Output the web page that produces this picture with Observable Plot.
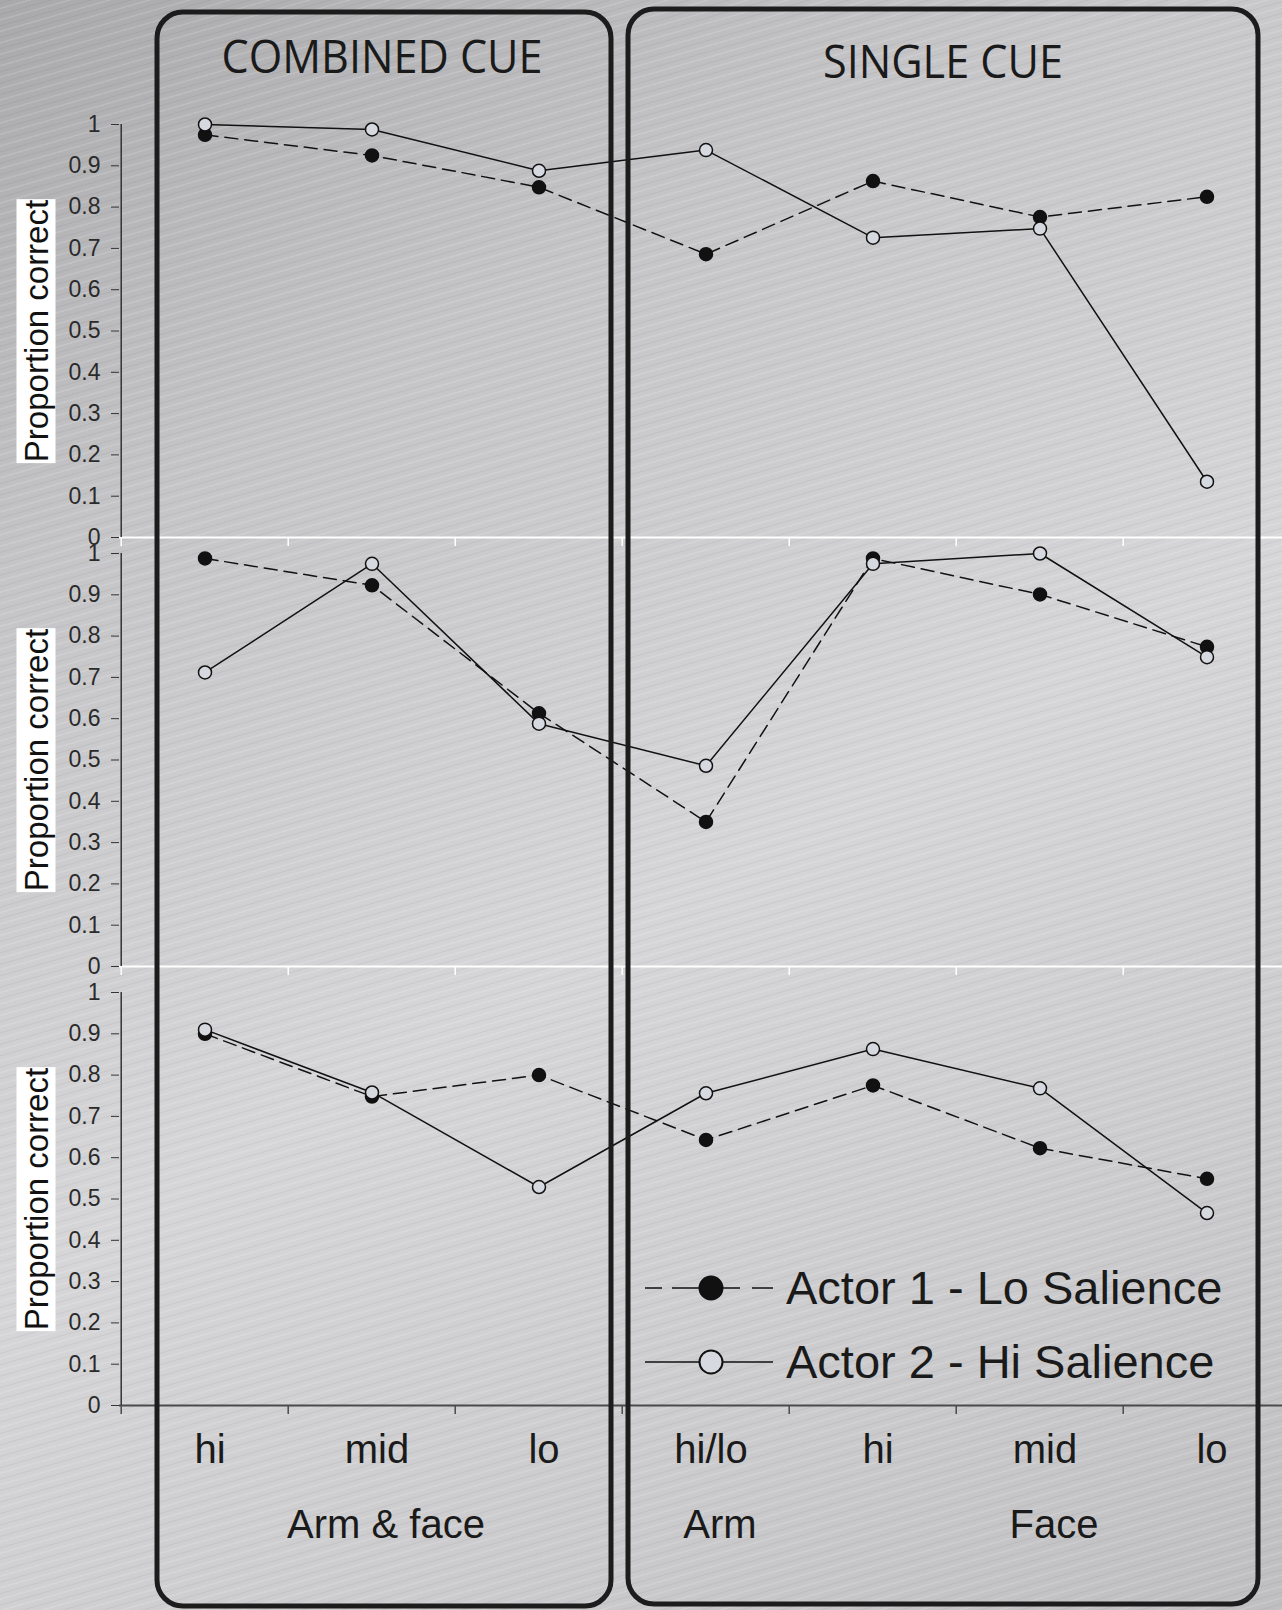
<!DOCTYPE html>
<html><head><meta charset="utf-8">
<script src="https://cdn.jsdelivr.net/npm/d3@7"></script>
<script src="https://cdn.jsdelivr.net/npm/@observablehq/plot@0.6"></script>
<style>
html,body{margin:0;padding:0;overflow:hidden;background:#c4c4c6;}
#root{position:relative;width:1282px;height:1610px;overflow:hidden;
  background:
    repeating-linear-gradient(-16deg, rgba(255,255,255,0.14) 0px, rgba(255,255,255,0.14) 1px, rgba(0,0,0,0) 2px, rgba(0,0,0,0) 5px, rgba(0,0,0,0.05) 6px, rgba(0,0,0,0) 7px, rgba(0,0,0,0) 11px),
    linear-gradient(150deg, #a9a9ac 0%, #c5c5c8 25%, #d6d6d8 55%, #cbcbcd 80%, #bfbfc2 100%);
  font-family:'Liberation Sans', Arial, sans-serif;}
.panel{position:absolute;left:0;}
.ylab{position:absolute;background:#fff;color:#111;font-size:33px;line-height:39px;white-space:nowrap;transform:translate(-50%,-50%) rotate(-90deg);padding:0 1px;}
.leg{position:absolute;left:0;top:0;}
</style></head><body><div id="root"></div>
<script>
// ---------- data ----------
const categories = ["AF-hi", "AF-mid", "AF-lo", "A-hilo", "F-hi", "F-mid", "F-lo"];
const tickLabels = ["hi", "mid", "lo", "hi/lo", "hi", "mid", "lo"];
const groupLabels = ["Arm & face", "Arm", "Face"];
const groupAnchors = ["AF-mid", "A-hilo", "F-mid"];
const seriesNames = ["Actor 1 - Lo Salience", "Actor 2 - Hi Salience"];
const yTickValues = [0, 0.1, 0.2, 0.3, 0.4, 0.5, 0.6, 0.7, 0.8, 0.9, 1];
const boxTitles = ["COMBINED CUE", "SINGLE CUE"];
const yLabel = "Proportion correct";

const panel1Actor1 = [0.975, 0.925, 0.848, 0.686, 0.863, 0.776, 0.825];
const panel1Actor2 = [1.0, 0.988, 0.888, 0.938, 0.726, 0.748, 0.135];
const panel2Actor1 = [0.988, 0.923, 0.613, 0.350, 0.988, 0.901, 0.774];
const panel2Actor2 = [0.712, 0.975, 0.588, 0.486, 0.975, 1.0, 0.749];
const panel3Actor1 = [0.900, 0.748, 0.800, 0.643, 0.775, 0.623, 0.549];
const panel3Actor2 = [0.910, 0.758, 0.529, 0.756, 0.863, 0.768, 0.466];

const panels = [
  [panel1Actor1, panel1Actor2],
  [panel2Actor1, panel2Actor2],
  [panel3Actor1, panel3Actor2]
];

// ---------- layout ----------
const root = document.getElementById("root");
const W = 1282;
const xRange = [119, 1292];
const bw = (xRange[1] - xRange[0]) / categories.length;
const panelTop = [124, 553, 992];
const panelH = 413;
const mt = 20;
const openFill = "#d6dae0";

panels.forEach((pair, p) => {
  const rows = [];
  pair.forEach((vals, s) => vals.forEach((v, i) => rows.push({cat: categories[i], value: v, series: seriesNames[s]})));
  const a1 = rows.filter(d => d.series === seriesNames[0]);
  const a2 = rows.filter(d => d.series === seriesNames[1]);
  const last = p === 2;
  const axisColor = last ? "#4a4a4a" : "#ffffff";
  const mb = last ? 170 : 20;
  const marks = [
    Plot.ruleY([0], {stroke: axisColor, strokeWidth: 2}),
    Plot.ruleX(categories, {x: d => d, dx: -bw / 2, y1: 0, y2: -0.022, stroke: axisColor, strokeWidth: 1.5}),
    Plot.ruleX([categories[0]], {x: d => d, dx: -bw / 2, y1: 0, y2: 1, stroke: "#333", strokeWidth: 1.5}),
    Plot.axisY({ticks: yTickValues, tickSize: 8, tickPadding: 11, fontSize: 23, label: null,
      tickFormat: d => (d === 0 ? "0" : d === 1 ? "1" : d.toFixed(1)), stroke: "#333", fill: "#2a2a2a"}),
    Plot.line(a1, {x: "cat", y: "value", stroke: "#111", strokeWidth: 1.5, strokeDasharray: "13,7"}),
    Plot.line(a2, {x: "cat", y: "value", stroke: "#111", strokeWidth: 1.5}),
    Plot.dot(a1, {x: "cat", y: "value", r: 6.5, fill: "#111", stroke: "#111", strokeWidth: 1.5}),
    Plot.dot(a2, {x: "cat", y: "value", r: 6.5, fill: openFill, stroke: "#111", strokeWidth: 1.5})
  ];
  if (last) {
    marks.push(Plot.text(categories, {x: d => d, text: (d, i) => tickLabels[i], frameAnchor: "bottom", lineAnchor: "middle", dy: 45, dx: 5, fontSize: 40, fill: "#1a1a1a"}));
    marks.push(Plot.text(groupLabels, {x: (d, i) => groupAnchors[i], text: d => d, frameAnchor: "bottom", lineAnchor: "middle", dy: 120, dx: 14, fontSize: 40, fill: "#1a1a1a"}));
  }
  const chart = Plot.plot({
    width: W, height: panelH + mt + mb,
    marginTop: mt, marginBottom: mb, marginLeft: xRange[0], marginRight: 0,
    x: {type: "band", domain: categories, range: xRange, padding: 0, axis: null},
    y: {domain: [0, 1], axis: null},
    style: {background: "transparent", overflow: "visible", fontFamily: "'Liberation Sans', Arial, sans-serif", color: "#2a2a2a"},
    marks
  });
  chart.classList.add("panel");
  chart.style.top = (panelTop[p] - mt) + "px";
  root.appendChild(chart);

  const lab = document.createElement("div");
  lab.className = "ylab";
  lab.textContent = yLabel;
  lab.style.left = "36px";
  lab.style.top = (panelTop[p] + panelH / 2) + "px";
  root.appendChild(lab);
});

// ---------- boxes & titles ----------
const boxes = [
  {x1: 157, x2: 611, y1: 12, y2: 1606, tx: 382, ty: 73, tw: 321},
  {x1: 628, x2: 1258, y1: 9, y2: 1604, tx: 943, ty: 78, tw: 240}
];
const svgNS = "http://www.w3.org/2000/svg";
const over = document.createElementNS(svgNS, "svg");
over.setAttribute("width", W); over.setAttribute("height", 1610);
over.setAttribute("class", "leg");
over.style.pointerEvents = "none";
boxes.forEach((b, i) => {
  const r = document.createElementNS(svgNS, "rect");
  r.setAttribute("x", b.x1); r.setAttribute("y", b.y1);
  r.setAttribute("width", b.x2 - b.x1); r.setAttribute("height", b.y2 - b.y1);
  r.setAttribute("rx", 26); r.setAttribute("fill", "none");
  r.setAttribute("stroke", "#1c1c1c"); r.setAttribute("stroke-width", 5);
  over.appendChild(r);
  const t = document.createElementNS(svgNS, "text");
  t.setAttribute("x", b.tx); t.setAttribute("y", b.ty);
  t.setAttribute("text-anchor", "middle");
  t.setAttribute("font-family", "'Open Sans', 'Liberation Sans', sans-serif");
  t.setAttribute("font-size", 46);
  t.setAttribute("fill", "#1a1a1a");
  t.setAttribute("textLength", b.tw);
  t.setAttribute("lengthAdjust", "spacingAndGlyphs");
  t.textContent = boxTitles[i];
  over.appendChild(t);
});

// ---------- legend ----------
const legRows = [{y: 1288, dash: "17,10,68,12,21", fill: "#111"}, {y: 1362, dash: null, fill: openFill}];
legRows.forEach((row, i) => {
  const l = document.createElementNS(svgNS, "line");
  l.setAttribute("x1", 645); l.setAttribute("x2", 773);
  l.setAttribute("y1", row.y); l.setAttribute("y2", row.y);
  l.setAttribute("stroke", "#111"); l.setAttribute("stroke-width", 1.5);
  if (row.dash) l.setAttribute("stroke-dasharray", row.dash);
  over.appendChild(l);
  const c = document.createElementNS(svgNS, "circle");
  c.setAttribute("cx", 711); c.setAttribute("cy", row.y); c.setAttribute("r", 11.5);
  c.setAttribute("fill", row.fill); c.setAttribute("stroke", "#111"); c.setAttribute("stroke-width", 2);
  over.appendChild(c);
  const t = document.createElementNS(svgNS, "text");
  t.setAttribute("x", 786); t.setAttribute("y", row.y + 16);
  t.setAttribute("font-family", "'Liberation Sans', Arial, sans-serif");
  t.setAttribute("font-size", 47);
  t.setAttribute("fill", "#1a1a1a");
  t.textContent = seriesNames[i];
  over.appendChild(t);
});
root.appendChild(over);
</script>
</body></html>
